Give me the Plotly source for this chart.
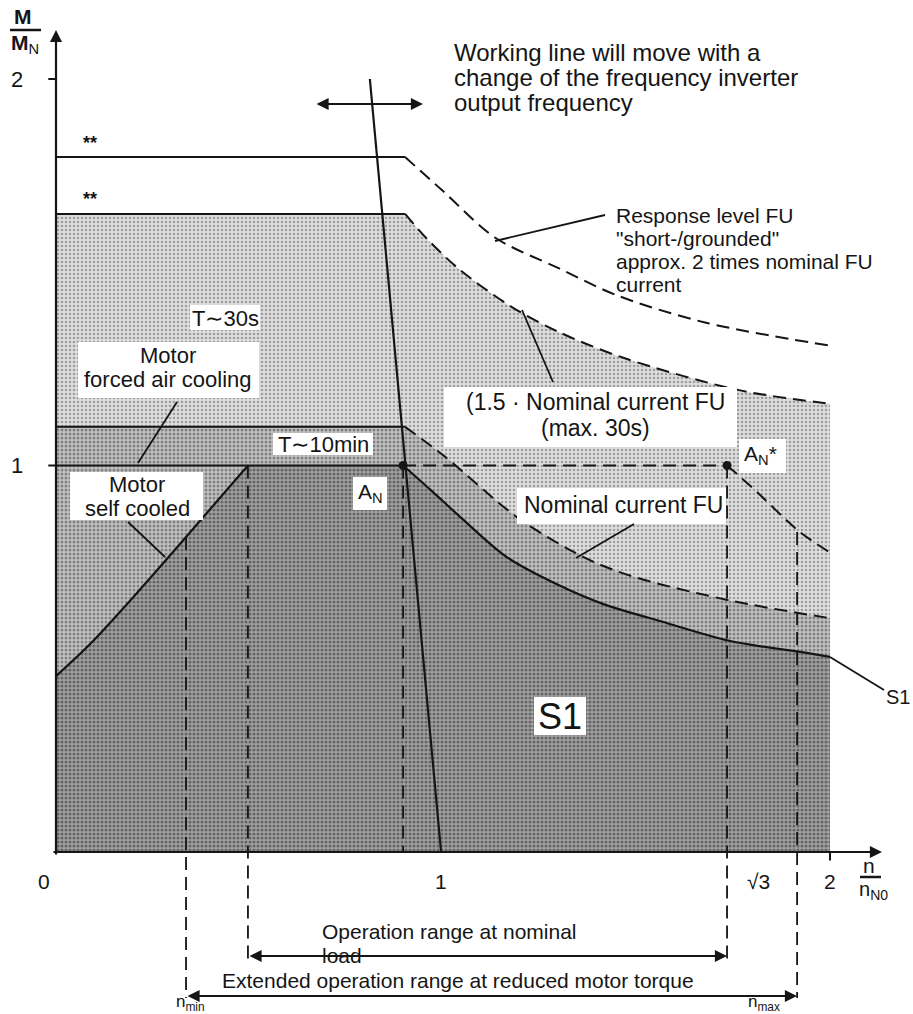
import plotly.graph_objects as go

# ---------------- data (x = n/n_N0, y = M/M_N) ----------------
# response level FU "short-/grounded" (approx. 2x nominal FU current)
x_resp = [0.0, 0.902, 1.0, 1.134, 1.3, 1.45, 1.677, 2.0]
y_resp = [1.798, 1.798, 1.71, 1.59, 1.51, 1.44, 1.37, 1.31]
# 1.5 x nominal current FU (max. 30 s)
x_15 = [0.0, 0.902, 0.96, 1.044, 1.178, 1.30, 1.468, 1.765, 2.0]
y_15 = [1.651, 1.651, 1.585, 1.506, 1.41, 1.345, 1.278, 1.195, 1.16]
# nominal current FU (motor forced air cooling, T~10min)
x_nom = [0.0, 0.902, 1.0, 1.2, 1.38, 1.5, 1.75, 2.0]
y_nom = [1.10, 1.10, 1.027, 0.86, 0.755, 0.71, 0.649, 0.605]
# motor self cooled
x_sc = [0.0, 0.09, 0.2, 0.336, 0.496]
y_sc = [0.455, 0.54, 0.66, 0.815, 1.0]
# S1 limit
x_s1 = [0.897, 0.97, 1.05, 1.165, 1.3, 1.413, 1.58, 1.742, 1.94, 2.0]
y_s1 = [1.0, 0.935, 0.862, 0.763, 0.69, 0.642, 0.592, 0.546, 0.515, 0.505]
# working line
x_wl = [0.811, 0.995]
y_wl = [2.0, 0.0]
# operating points A_N and A_N*
pt_x = [0.897, 1.734]
pt_y = [1.0, 1.0]
# nominal current line from A_N*
x_an2 = [1.734, 1.8, 1.922, 2.0]
y_an2 = [1.0, 0.942, 0.828, 0.775]
# vertical reference lines: n_min, start nominal, A_N, sqrt3, n_max
v_x = [0.336, 0.496, 0.897, 1.734, 1.915]
v_top = [0.815, 1.0, 1.0, 1.0, 0.828]
v_bot = [-0.378, -0.292, 0.0, -0.292, -0.378]
# x tick labels
xt_val = [0.0, 0.995, 1.78, 2.0]
xt_txt = ["0", "1", "√3", "2"]
yt_val = [1.0, 2.0]
yt_txt = ["1", "2"]

# ---------------- geometry helpers ----------------
W, H = 913, 1014
X0, XU = 56.0, 387.0
Y0, YU = 852.0, 386.5
def px(v): return (v - X0) / XU
def py(v): return (Y0 - v) / YU

FONT = "Liberation Sans, Arial, Helvetica, sans-serif"
INK = "#151515"
DASH = "13px,7px"

fig = go.Figure()

# ---------------- filled areas ----------------
light = dict(shape='.', bgcolor='#dedede', fgcolor='#5e5e5e', size=4, solidity=0.35)
medium = dict(shape='.', bgcolor='#c2c2c2', fgcolor='#424242', size=4, solidity=0.45)
dark = dict(shape='.', bgcolor='#a2a2a2', fgcolor='#2a2a2a', size=4, solidity=0.5)

def area(x, y, pat, shape='spline'):
    fig.add_trace(go.Scatter(x=x, y=y, fill='tozeroy', fillpattern=pat,
                             fillcolor=pat['bgcolor'], mode='lines',
                             line=dict(width=0, shape=shape, smoothing=0.9),
                             hoverinfo='skip'))

area(x_15[:2], y_15[:2], light, shape='linear')
area(x_15[1:], y_15[1:], light)
area(x_nom[:2], y_nom[:2], medium, shape='linear')
area(x_nom[1:], y_nom[1:], medium)
area(x_sc + [pt_x[0]], y_sc + [pt_y[0]], dark, shape='linear')
area(x_s1, y_s1, dark)

def line(x, y, dash=None, width=2.0, shape='linear'):
    fig.add_trace(go.Scatter(x=x, y=y, mode='lines', hoverinfo='skip',
                             line=dict(color=INK, width=width, dash=dash,
                                       shape=shape, smoothing=0.9)))

# plateaus (solid) and field-weakening parts (dashed)
line(x_resp[:2], y_resp[:2])
line(x_resp[1:], y_resp[1:], DASH, shape='spline')
line(x_15[:2], y_15[:2])
line(x_15[1:], y_15[1:], DASH, shape='spline')
line(x_nom[:2], y_nom[:2])
line(x_nom[1:], y_nom[1:], DASH, shape='spline')
# M/M_N = 1 line up to A_N, dashed to A_N*
line([-0.02, pt_x[0]], [1.0, 1.0])
line(pt_x, pt_y, DASH)
line(x_an2, y_an2, DASH, shape='spline')
# self cooled and S1
line(x_sc, y_sc, width=2.2, shape='spline')
line(x_s1, y_s1, width=2.2, shape='spline')
# working line
line(x_wl, y_wl, width=2.2)
# vertical dashed
for vx, vt, vb in zip(v_x, v_top, v_bot):
    line([vx, vx], [vt, vb], DASH, width=1.8)
# ticks
line([-0.02, 0.0], [2.0, 2.0])
line([2.0, 2.0], [0.0, -0.022])
# operating points
fig.add_trace(go.Scatter(x=pt_x, y=pt_y, mode='markers', hoverinfo='skip',
                         marker=dict(color=INK, size=9)))

shapes = []
annotations = []

# white label boxes (pixel estimates)
boxes = [(190, 305, 260, 330), (78, 342, 259, 398), (273, 433, 373, 455),
         (70, 472, 203, 520), (353, 477, 387, 510), (444, 387, 737, 447),
         (517, 488, 726, 524), (739, 439, 786, 473), (534, 697, 586, 735)]
for (a, b, c, d) in boxes:
    shapes.append(dict(type='rect', xref='x', yref='y', x0=px(a), x1=px(c),
                       y0=py(d), y1=py(b), fillcolor='white',
                       line=dict(width=0), layer='above'))

# pointer lines
pointers = [((605, 215), (495, 241)), ((553, 382), (522, 310)),
            ((634, 524), (576, 558)), ((177, 402), (138, 463)),
            ((128, 522), (165, 557)), ((830, 657), (884, 690))]
for (p0, p1) in pointers:
    shapes.append(dict(type='line', xref='x', yref='y', x0=px(p0[0]), y0=py(p0[1]),
                       x1=px(p1[0]), y1=py(p1[1]), line=dict(color=INK, width=1.8),
                       layer='above'))

# fraction bars
shapes.append(dict(type='line', xref='x', yref='y', x0=px(10), x1=px(41), y0=py(30), y1=py(30),
                   line=dict(color=INK, width=2.5), layer='above'))
shapes.append(dict(type='line', xref='x', yref='y', x0=px(860), x1=px(881), y0=py(877), y1=py(877),
                   line=dict(color=INK, width=2.5), layer='above'))


def txt(x, y, s, size=23, anchor='center', color=INK):
    annotations.append(dict(x=px(x), y=py(y), xref='x', yref='y', text=s,
                            showarrow=False, xanchor=anchor, yanchor='middle',
                            font=dict(family=FONT, size=size, color=color)))

def arrow(x0, y0, x1, y1, both=False, width=2.2):
    annotations.append(dict(x=px(x1), y=py(y1), ax=px(x0), ay=py(y0),
                            xref='x', yref='y', axref='x', ayref='y', text='',
                            font=dict(size=10),
                            showarrow=True, arrowhead=2, arrowsize=1.1,
                            arrowwidth=width, arrowcolor=INK,
                            arrowside='end+start' if both else 'end'))

# axes
arrow(56, 856, 56, 30)
arrow(52, 852, 882, 852)
arrow(315, 104, 423, 104, both=True)
arrow(248, 956, 727, 956, both=True)
arrow(186, 996, 797, 996, both=True)

# axis labels
for v, t in zip(yt_val, yt_txt):
    txt(17, Y0 - v * YU, t, size=22)
for v, t in zip(xt_val, xt_txt):
    txt(X0 + v * XU + (14 if t == "√3" else (-12 if t == "0" else 0)), 881, t, size=21)
txt(23, 16, "<b>M</b>", size=21)
txt(25, 44, "<b>M</b><sub>N</sub>", size=21)
txt(869, 865, "n", size=21)
txt(873, 890, "n<sub>N0</sub>", size=20)

# text annotations
for i, s in enumerate(["Working line will move with a",
                       "change of the frequency inverter",
                       "output frequency"]):
    txt(452, 52 + 25 * i, s, size=24, anchor='left')
for i, s in enumerate(["Response level FU", "\"short-/grounded\"",
                       "approx. 2 times nominal FU", "current"]):
    txt(614, 215 + 23 * i, s, size=21, anchor='left')
txt(90, 143, "<b>**</b>", size=18)
txt(90, 199, "<b>**</b>", size=18)
txt(225, 318, "T∼30s", size=22)
txt(168, 355, "Motor", size=22)
txt(168, 379, "forced air cooling", size=22)
txt(323, 444, "T∼10min", size=22)
txt(137, 484, "Motor", size=22)
txt(137, 508, "self cooled", size=22)
txt(370, 493, "A<sub>N</sub>", size=21)
txt(595, 402, "(1.5 · Nominal current FU", size=23)
txt(595, 428, "(max. 30s)", size=23)
txt(623, 505, "Nominal current FU", size=23)
txt(760, 455, "A<sub>N</sub>*", size=21)
txt(560, 716, "S1", size=36)
txt(884, 697, "S1", size=20, anchor='left')
txt(320, 931, "Operation range at nominal", size=21, anchor='left')
txt(320, 955, "load", size=21, anchor='left')
txt(220, 980, "Extended operation range at reduced motor torque", size=21, anchor='left')
txt(190, 1003, "n<sub>min</sub>", size=17)
txt(764, 1003, "n<sub>max</sub>", size=17)

fig.update_layout(
    width=W, height=H, margin=dict(l=0, r=0, t=0, b=0),
    paper_bgcolor='white', plot_bgcolor='white', showlegend=False,
    xaxis=dict(range=[px(0), px(W)], visible=False, fixedrange=True),
    yaxis=dict(range=[py(H), py(0)], visible=False, fixedrange=True),
    shapes=shapes, annotations=annotations,
)

fig.write_html("out.html", config={'displayModeBar': False, 'staticPlot': True},
               post_script="document.body.style.margin='0';document.body.style.overflow='hidden';")
